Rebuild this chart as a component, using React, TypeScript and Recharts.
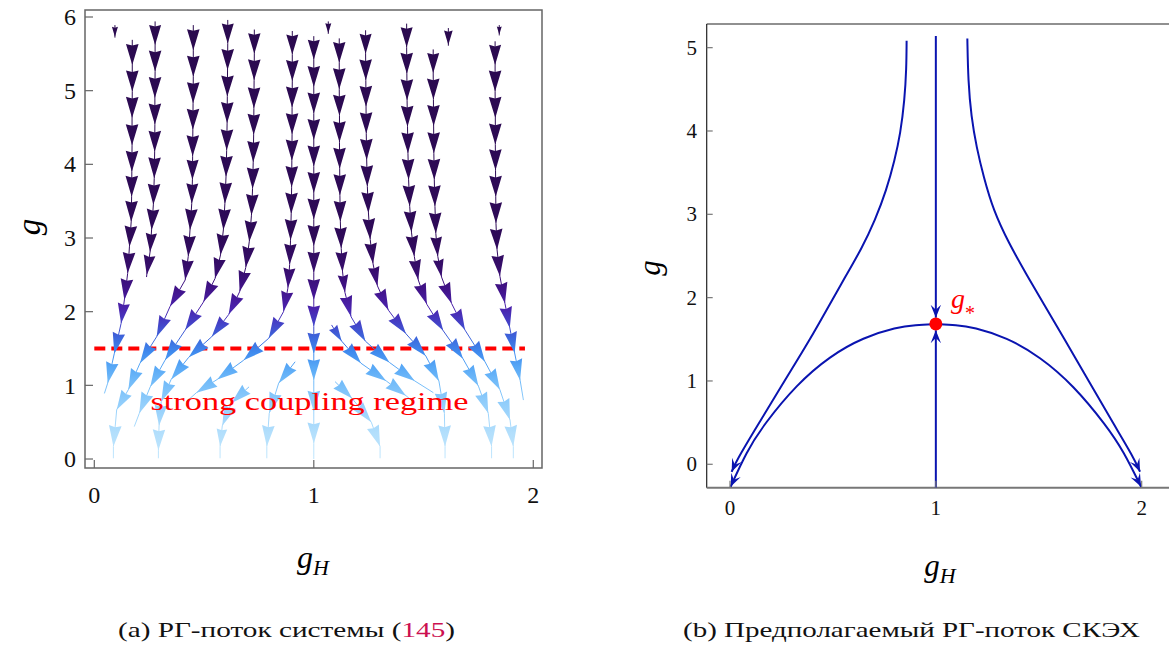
import React from 'react';
import { ScatterChart, Scatter, XAxis, YAxis, ReferenceArea, ReferenceLine, ReferenceDot } from 'recharts';

type P = [number, number];

// ---------------- Panel (a): RG stream plot, points are [gH, g] ----------------
const streamA: P[] = [[0.094, 5.89], [0.094, 5.73], [0.094, 5.72]];
const streamB: P[] = [[0.173, 5.69], [0.173, 5.35], [0.173, 4.99], [0.172, 4.63], [0.172, 4.26], [0.171, 3.9], [0.17, 3.56], [0.168, 3.22], [0.16, 2.88], [0.152, 2.52], [0.137, 2.16], [0.122, 1.84], [0.091, 1.43], [0.061, 1.03], [0.046, 0.89]];
const streamC: P[] = [[0.277, 5.94], [0.277, 5.62], [0.277, 5.26], [0.276, 4.9], [0.276, 4.54], [0.275, 4.17], [0.273, 3.81], [0.269, 3.45], [0.261, 3.11], [0.254, 2.81], [0.239, 2.5], [0.238, 2.47]];
const streamD: P[] = [[0.451, 5.89], [0.451, 5.55], [0.451, 5.19], [0.45, 4.83], [0.449, 4.47], [0.448, 4.11], [0.447, 3.79], [0.444, 3.47], [0.436, 3.11], [0.428, 2.75], [0.414, 2.43], [0.345, 2.07], [0.284, 1.66], [0.208, 1.3], [0.155, 0.94], [0.102, 0.67], [0.087, 0.17], [0.087, 0.01]];
const streamE: P[] = [[0.608, 5.96], [0.608, 5.64], [0.607, 5.28], [0.606, 4.92], [0.605, 4.56], [0.603, 4.19], [0.6, 3.83], [0.595, 3.47], [0.588, 3.11], [0.575, 2.77], [0.55, 2.45], [0.497, 2.13], [0.414, 1.75], [0.322, 1.34], [0.255, 0.98], [0.205, 0.62], [0.182, 0.44]];
const streamF: P[] = [[0.729, 5.83], [0.729, 5.5], [0.728, 5.14], [0.727, 4.76], [0.726, 4.4], [0.724, 4.03], [0.721, 3.67], [0.716, 3.31], [0.706, 2.95], [0.69, 2.6], [0.662, 2.27], [0.612, 1.96], [0.535, 1.66], [0.43, 1.38], [0.35, 1.08], [0.305, 0.78], [0.295, 0.45], [0.292, 0.12], [0.292, 0.01]];
const streamG: P[] = [[0.902, 5.81], [0.902, 5.49], [0.902, 5.13], [0.901, 4.77], [0.901, 4.41], [0.9, 4.05], [0.899, 3.69], [0.897, 3.33], [0.894, 2.97], [0.89, 2.64], [0.882, 2.32], [0.862, 2.0], [0.795, 1.64], [0.68, 1.34], [0.56, 1.08], [0.465, 0.9], [0.42, 0.78]];
const streamH: P[] = [[1, 5.74], [1, 5.42], [1, 5.05], [1, 4.69], [1, 4.33], [1, 3.97], [1, 3.61], [1, 3.25], [1, 2.89], [1, 2.53], [1, 2.16], [1, 1.8], [1, 1.43], [1, 1.07], [1, 0.64], [1, 0.21], [1, 0.0]];
const streamJ: P[] = [[1.066, 5.94], [1.066, 5.78], [1.066, 5.77]];
const streamS1: P[] = [[0.915, 1.32], [0.84, 1.03], [0.797, 0.62], [0.786, 0.17], [0.786, 0.01]];
const streamS2: P[] = [[0.705, 0.98], [0.625, 0.76], [0.583, 0.45], [0.573, 0.17], [0.573, 0.01]];
const streamI: P[] = [[1.116, 5.71], [1.116, 5.38], [1.116, 5.02], [1.117, 4.66], [1.117, 4.3], [1.118, 3.94], [1.119, 3.58], [1.121, 3.22], [1.125, 2.86], [1.131, 2.54], [1.142, 2.26], [1.17, 1.93], [1.235, 1.6], [1.345, 1.31], [1.46, 1.06], [1.545, 0.9]];
const streamK: P[] = [[1.236, 5.82], [1.236, 5.5], [1.237, 5.14], [1.238, 4.78], [1.239, 4.42], [1.241, 4.06], [1.244, 3.7], [1.249, 3.34], [1.257, 2.98], [1.27, 2.65], [1.29, 2.35], [1.34, 2.02], [1.42, 1.7], [1.51, 1.4], [1.57, 1.06], [1.595, 0.62], [1.598, 0.17], [1.598, 0.01]];
const streamL: P[] = [[1.423, 5.91], [1.423, 5.59], [1.424, 5.23], [1.425, 4.87], [1.427, 4.51], [1.429, 4.15], [1.432, 3.79], [1.437, 3.43], [1.445, 3.08], [1.458, 2.75], [1.476, 2.43], [1.515, 2.1], [1.59, 1.74], [1.68, 1.36], [1.75, 0.99], [1.795, 0.62], [1.81, 0.17], [1.81, 0.01]];
const streamM: P[] = [[1.544, 5.56], [1.544, 5.24], [1.545, 4.88], [1.546, 4.52], [1.547, 4.15], [1.549, 3.79], [1.552, 3.43], [1.556, 3.06], [1.565, 2.75], [1.582, 2.47], [1.628, 2.11], [1.689, 1.75], [1.78, 1.32], [1.848, 0.94], [1.894, 0.53], [1.909, 0.17], [1.909, 0.01]];
const streamN: P[] = [[1.613, 5.85], [1.613, 5.62], [1.613, 5.61]];
const streamO: P[] = [[1.826, 5.67], [1.826, 5.35], [1.826, 4.99], [1.827, 4.63], [1.827, 4.27], [1.828, 3.92], [1.829, 3.56], [1.83, 3.2], [1.835, 2.84], [1.848, 2.48], [1.871, 2.11], [1.893, 1.78], [1.915, 1.44], [1.94, 1.07], [1.955, 0.8]];
const streamP: P[] = [[1.845, 5.89], [1.845, 5.76], [1.845, 5.75]];
const streamR1: P[] = [[1.081, 1.82], [1.127, 1.6], [1.215, 1.3], [1.33, 1.06], [1.42, 0.86], [1.46, 0.76]];
const streamR2: P[] = [[1.097, 1.05], [1.175, 0.82], [1.262, 0.5], [1.302, 0.17], [1.302, 0.01]];

const leftStreams: P[][] = [streamA, streamB, streamC, streamD, streamE, streamF, streamG, streamH, streamJ, streamS1, streamS2, streamI, streamK, streamL, streamM, streamN, streamO, streamP, streamR1, streamR2];

const leftXTicks = [0, 1, 2];
const leftYTicks = [0, 1, 2, 3, 4, 5, 6];
const couplingLevel = 1.5;
const couplingFrom = 0;
const couplingTo = 1.962;

// ---------------- Panel (b): expected RG flow ----------------
const sepTop: P[] = [[1, 5.14], [1, 3.4], [1, 1.76]];
const sepBottom: P[] = [[1, -0.281], [1, 0.7], [1, 1.61]];
const arcLeft: P[] = [[1, 1.684], [0.9, 1.672], [0.81, 1.644], [0.648, 1.524], [0.486, 1.3], [0.324, 0.96], [0.162, 0.47], [0.08, 0.15], [0.003, -0.27]];
const arcRight: P[] = [[1, 1.684], [1.1, 1.672], [1.182, 1.644], [1.344, 1.524], [1.506, 1.291], [1.668, 0.95], [1.83, 0.46], [1.911, 0.16], [1.997, -0.27]];
const outerLeft: P[] = [[0.858, 5.084], [0.857, 4.75], [0.848, 4.37], [0.828, 3.97], [0.8, 3.65], [0.76, 3.29], [0.705, 2.93], [0.64, 2.59], [0.56, 2.25], [0.478, 1.89], [0.405, 1.57], [0.327, 1.25], [0.218, 0.81], [0.12, 0.41], [0.033, 0.05], [0.008, -0.09]];
const outerRight: P[] = [[1.153, 5.11], [1.157, 4.6], [1.172, 4.17], [1.198, 3.8], [1.232, 3.45], [1.279, 3.05], [1.355, 2.65], [1.44, 2.28], [1.525, 1.92], [1.619, 1.53], [1.749, 0.97], [1.862, 0.49], [1.959, 0.09], [1.992, -0.09]];
const fixedPoint: P = [1, 1.684];

const rightXTicks = [0, 1, 2];
const rightYTicks = [0, 1, 2, 3, 4, 5];

// ---------------- layout / style ----------------
const FONT = "'Liberation Serif', 'Times New Roman', Times, serif";
const BLUE = '#0a14b0';
const LW = 560, LH = 540;
const LPL = 85, LPT = 10, LPR = 542, LPB = 468;
const LX: [number, number] = [-0.0424, 2.0397];
const LY: [number, number] = [-0.122, 6.095];
const LKX = (LPR - LPL) / (LX[1] - LX[0]);
const LKY = (LPB - LPT) / (LY[1] - LY[0]);

const RW = 569, RH = 540;
const RPL = 106.7, RPT = 24, RPR = 569, RPB = 487.7;
const RX: [number, number] = [-0.1132, 2.1327];
const RY: [number, number] = [-0.281, 5.284];
const RKX = (RPR - RPL) / (RX[1] - RX[0]);
const RKY = (RPB - RPT) / (RY[1] - RY[0]);

const flowColors: [number, string][] = [
  [6.1, '#2a0a4e'], [3.0, '#2e0a58'], [2.6, '#360d6a'], [2.3, '#411389'], [2.05, '#4a22ac'],
  [1.85, '#4440c6'], [1.65, '#3d66dc'], [1.45, '#3f8aee'], [1.25, '#58a8f6'], [1.05, '#72bbf9'],
  [0.75, '#92cefb'], [0.35, '#b3dffc'], [-0.12, '#c4e8fd'],
];

type Pt = { x: number; y: number; dx: number; dy: number; head: boolean };
function toSeries(pts: P[], mode: 'inner' | 'last'): Pt[] {
  return pts.map(([x, y], i) => {
    const prev = i > 0 ? pts[i - 1] : null;
    return {
      x, y,
      dx: prev ? x - prev[0] : 0,
      dy: prev ? y - prev[1] : 0,
      head: mode === 'inner' ? i > 0 && i < pts.length - 1 : i === pts.length - 1,
    };
  });
}

function headPath(cx: number, cy: number, vx: number, vy: number, len: number, half: number, notch: number) {
  const n = Math.hypot(vx, vy) || 1;
  const ux = vx / n, uy = vy / n;
  const nx = -uy, ny = ux;
  const bx = cx - ux * len, by = cy - uy * len;
  const mx = cx - ux * len * notch, my = cy - uy * len * notch;
  return `M${cx},${cy}L${bx + nx * half},${by + ny * half}L${mx},${my}L${bx - nx * half},${by - ny * half}Z`;
}

const StreamHead = (props: any) => {
  const { cx, cy, payload } = props;
  if (!payload || !payload.head || cx == null || cy == null) return <g />;
  const vx = payload.dx * LKX, vy = -payload.dy * LKY;
  const seg = Math.hypot(vx, vy);
  const len = Math.min(21, seg * 0.85);
  return <path d={headPath(cx, cy, vx, vy, len, len * 0.3, 0.92)} fill="url(#flowGrad)" />;
};

const FlowHead = (props: any) => {
  const { cx, cy, payload } = props;
  if (!payload || !payload.head || cx == null || cy == null) return <g />;
  const vx = payload.dx * RKX, vy = -payload.dy * RKY;
  return <path d={headPath(cx, cy, vx, vy, 13, 5.2, 0.6)} fill={BLUE} />;
};

const LeftXTick = (p: any) => (
  <g>
    <line x1={p.x} x2={p.x} y1={LPB} y2={LPB - 8} stroke="#666" strokeWidth={1.2} />
    <text x={p.x} y={LPB + 35} textAnchor="middle" fontSize={24} fontFamily={FONT} fill="#111">{p.payload.value}</text>
  </g>
);
const LeftYTick = (p: any) => (
  <g>
    <line x1={LPL} x2={LPL + 8} y1={p.y} y2={p.y} stroke="#666" strokeWidth={1.2} />
    <text x={LPL - 9} y={p.y} dy="0.34em" textAnchor="end" fontSize={24} fontFamily={FONT} fill="#111">{p.payload.value}</text>
  </g>
);
const RightXTick = (p: any) => (
  <g>
    <line x1={p.x} x2={p.x} y1={RPB} y2={RPB - 7} stroke="#777" strokeWidth={1.2} />
    <text x={p.x} y={RPB + 27.5} textAnchor="middle" fontSize={21} fontFamily={FONT} fill="#111">{p.payload.value}</text>
  </g>
);
const RightYTick = (p: any) => (
  <g>
    <line x1={RPL} x2={RPL + 6} y1={p.y} y2={p.y} stroke="#777" strokeWidth={1.2} />
    <text x={RPL - 9.7} y={p.y} dy="0.34em" textAnchor="end" fontSize={21} fontFamily={FONT} fill="#111">{p.payload.value}</text>
  </g>
);

export default function App() {
  const leftData = leftStreams.map((s) => toSeries(s, 'inner'));
  const rightData = [sepTop, sepBottom, arcLeft, arcRight, outerLeft, outerRight].map((s) => toSeries(s, 'last'));
  const span = LY[1] - LY[0];
  return (
    <div style={{ position: 'absolute', left: 0, top: 0, width: 1169, height: 648, background: '#fff', fontFamily: FONT, overflow: 'hidden' }}>
      <svg width={0} height={0} style={{ position: 'absolute' }}>
        <defs>
          <linearGradient id="flowGrad" gradientUnits="userSpaceOnUse" x1={0} y1={LPT} x2={0} y2={LPB}>
            {flowColors.map(([g, c], i) => (
              <stop key={i} offset={Math.min(1, Math.max(0, (LY[1] - g) / span))} stopColor={c} />
            ))}
          </linearGradient>
        </defs>
      </svg>

      <div style={{ position: 'absolute', left: 0, top: 0 }}>
        <ScatterChart width={LW} height={LH} margin={{ top: LPT, right: LW - LPR, bottom: 0, left: 0 }}>
          <XAxis type="number" dataKey="x" domain={LX} allowDataOverflow ticks={leftXTicks} interval={0}
            height={LH - LPB} tickSize={0} tickMargin={0} axisLine={false} tickLine={false} tick={LeftXTick} />
          <YAxis type="number" dataKey="y" domain={LY} allowDataOverflow ticks={leftYTicks} interval={0}
            width={LPL} tickSize={0} tickMargin={9} axisLine={false} tickLine={false} tick={LeftYTick} />
          {leftData.map((d, i) => (
            <Scatter key={i} data={d} line={{ stroke: 'url(#flowGrad)', strokeWidth: 1 }} lineJointType="linear"
              shape={StreamHead} isAnimationActive={false} />
          ))}
          <ReferenceLine segment={[{ x: couplingFrom, y: couplingLevel }, { x: couplingTo, y: couplingLevel }]}
            stroke="#ff0000" strokeWidth={4} strokeDasharray="11 6" ifOverflow="visible" />
          <ReferenceArea x1={LX[0]} x2={LX[1]} y1={LY[0]} y2={LY[1]} fill="none" fillOpacity={0}
            stroke="#666" strokeWidth={1.5} ifOverflow="visible" />
        </ScatterChart>
      </div>

      <div style={{ position: 'absolute', left: 600, top: 0 }}>
        <ScatterChart width={RW} height={RH} margin={{ top: RPT, right: 0, bottom: 0, left: 0 }}>
          <XAxis type="number" dataKey="x" domain={RX} allowDataOverflow ticks={rightXTicks} interval={0}
            height={RH - RPB} tickSize={0} tickMargin={0} axisLine={false} tickLine={false} tick={RightXTick} />
          <YAxis type="number" dataKey="y" domain={RY} allowDataOverflow ticks={rightYTicks} interval={0}
            width={RPL} tickSize={0} tickMargin={9.7} axisLine={false} tickLine={false} tick={RightYTick} />
          <ReferenceLine x={RX[0]} stroke="#222" strokeWidth={1.2} ifOverflow="visible" />
          <ReferenceLine y={RY[1]} stroke="#222" strokeWidth={1.2} ifOverflow="visible" />
          <ReferenceLine y={RY[0]} stroke="#777" strokeWidth={2} ifOverflow="visible" />
          {rightData.map((d, i) => (
            <Scatter key={i} data={d} line={{ stroke: BLUE, strokeWidth: 2 }} lineJointType="basis"
              shape={FlowHead} isAnimationActive={false} />
          ))}
          <ReferenceDot x={fixedPoint[0]} y={fixedPoint[1]} r={6.5} fill="#ff0000" stroke="none" ifOverflow="visible" />
        </ScatterChart>
      </div>

      <svg width={1169} height={648} style={{ position: 'absolute', left: 0, top: 0, pointerEvents: 'none' }}>
        <text x={309.5} y={410} textAnchor="middle" fontSize={26} fill="#ff0000" fontFamily={FONT}
          textLength={318} lengthAdjust="spacingAndGlyphs">strong coupling regime</text>
        <text x={951} y={308} fontSize={28} fill="#ff0000" fontFamily={FONT} fontStyle="italic">g<tspan fontSize={20} dy={12} fontStyle="normal">*</tspan></text>

        <text x={29} y={227} textAnchor="middle" dominantBaseline="central" fontSize={33} fontStyle="italic"
          fontFamily={FONT} transform="rotate(-90 29 227)">g</text>
        <text x={649} y={268} textAnchor="middle" dominantBaseline="central" fontSize={31} fontStyle="italic"
          fontFamily={FONT} transform="rotate(-90 649 268)">g</text>

        <text x={313} y={568} textAnchor="middle" fontSize={32} fontStyle="italic" fontFamily={FONT}>g<tspan fontSize={22} dy={7}>H</tspan></text>
        <text x={940} y={576} textAnchor="middle" fontSize={31} fontStyle="italic" fontFamily={FONT}>g<tspan fontSize={22} dy={7}>H</tspan></text>

        <text x={286.5} y={637} textAnchor="middle" fontSize={21} fontFamily={FONT} fill="#111"
          textLength={337} lengthAdjust="spacingAndGlyphs">(a) РГ-поток системы (<tspan fill="#cc1050">145</tspan>)</text>
        <text x={911.5} y={637} textAnchor="middle" fontSize={21} fontFamily={FONT} fill="#111"
          textLength={457} lengthAdjust="spacingAndGlyphs">(b) Предполагаемый РГ-поток СКЭХ</text>
      </svg>
    </div>
  );
}
